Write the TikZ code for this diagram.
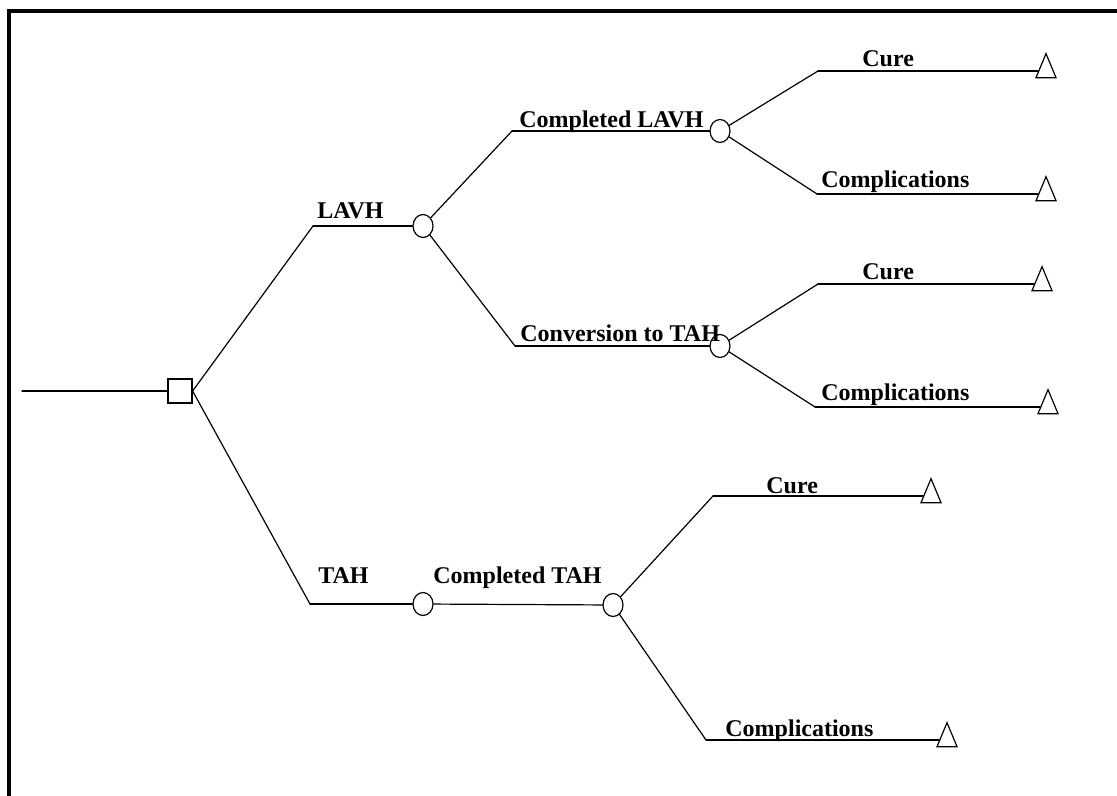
\documentclass[tikz,border=0pt]{standalone}
\usepackage{fontspec}
\setmainfont{Liberation Serif}
\usetikzlibrary{shapes.geometric}

\begin{document}
\begin{tikzpicture}
[
  x=0.5pt, y=-0.5pt,
  choice/.style={draw, rectangle, minimum size=12pt, inner sep=0pt, line width=0.6pt},
  chance/.style={draw, ellipse, minimum width=10pt, minimum height=11.5pt, inner sep=0pt, line width=0.6pt},
  outcome/.style={draw, isosceles triangle, shape border rotate=90, isosceles triangle stretches,
    minimum width=10pt, minimum height=12pt, inner sep=0pt, line width=0.6pt},
  lbl/.style={anchor=base west, inner sep=0pt, font=\bfseries\fontsize{12}{14}\selectfont}
]

\useasboundingbox (0,0) rectangle (1117,796);

% frame
\draw[line width=1.8pt] (9,796) -- (9,11) -- (1117,11);

% decision and chance nodes
\coordinate (in) at (22,391);
\node[choice] (dec) at (180,391) {};
\node[chance] (lavh) at (423,226) {};
\node[chance] (cl) at (720,131) {};
\node[chance] (ct) at (720,346) {};
\node[chance] (tah) at (423,604) {};
\node[chance] (ctah) at (613,605) {};

% branch corners
\coordinate (kLavh) at (313,226);
\coordinate (kTah) at (310,604);
\coordinate (kCl) at (512,131);
\coordinate (kCt) at (515,346);
\coordinate (kCure1) at (818,71);
\coordinate (kComp1) at (817,194);
\coordinate (kCure2) at (818,284);
\coordinate (kComp2) at (815,407);
\coordinate (kCure3) at (713,496);
\coordinate (kComp3) at (706,740);

% terminal nodes
\node[outcome] (t1) at (1046,71) {};
\node[outcome] (t2) at (1046,194) {};
\node[outcome] (t3) at (1042,284) {};
\node[outcome] (t4) at (1048,407) {};
\node[outcome] (t5) at (931,496) {};
\node[outcome] (t6) at (947,740) {};

% labels
\node[lbl] at (317,219) {LAVH};
\node[lbl] at (519,128) {Completed LAVH};
\node[lbl] at (862,67) {Cure};
\node[lbl] at (821,188) {Complications};
\node[lbl] at (520,341) {Conversion to TAH};
\node[lbl] at (862,279) {Cure};
\node[lbl] at (821,400) {Complications};
\node[lbl] at (318,583) {TAH};
\node[lbl] at (433,583) {Completed TAH};
\node[lbl] at (766,493) {Cure};
\node[lbl] at (725,736) {Complications};

\path[line width=0.6pt, line cap=round]
  (in) edge (dec)

  (dec.east) edge (kLavh)
  (kLavh) edge (lavh)
  (dec.east) edge (kTah)
  (kTah) edge (tah)

  (lavh) edge (kCl)
  (kCl) edge (cl)
  (lavh) edge (kCt)
  (kCt) edge (ct)

  (cl) edge (kCure1)
  (kCure1) edge (t1)
  (cl) edge (kComp1)
  (kComp1) edge (t2)

  (ct) edge (kCure2)
  (kCure2) edge (t3)
  (ct) edge (kComp2)
  (kComp2) edge (t4)

  (tah) edge (ctah)
  (ctah) edge (kCure3)
  (kCure3) edge (t5)
  (ctah) edge (kComp3)
  (kComp3) edge (t6);
\end{tikzpicture}
\end{document}
